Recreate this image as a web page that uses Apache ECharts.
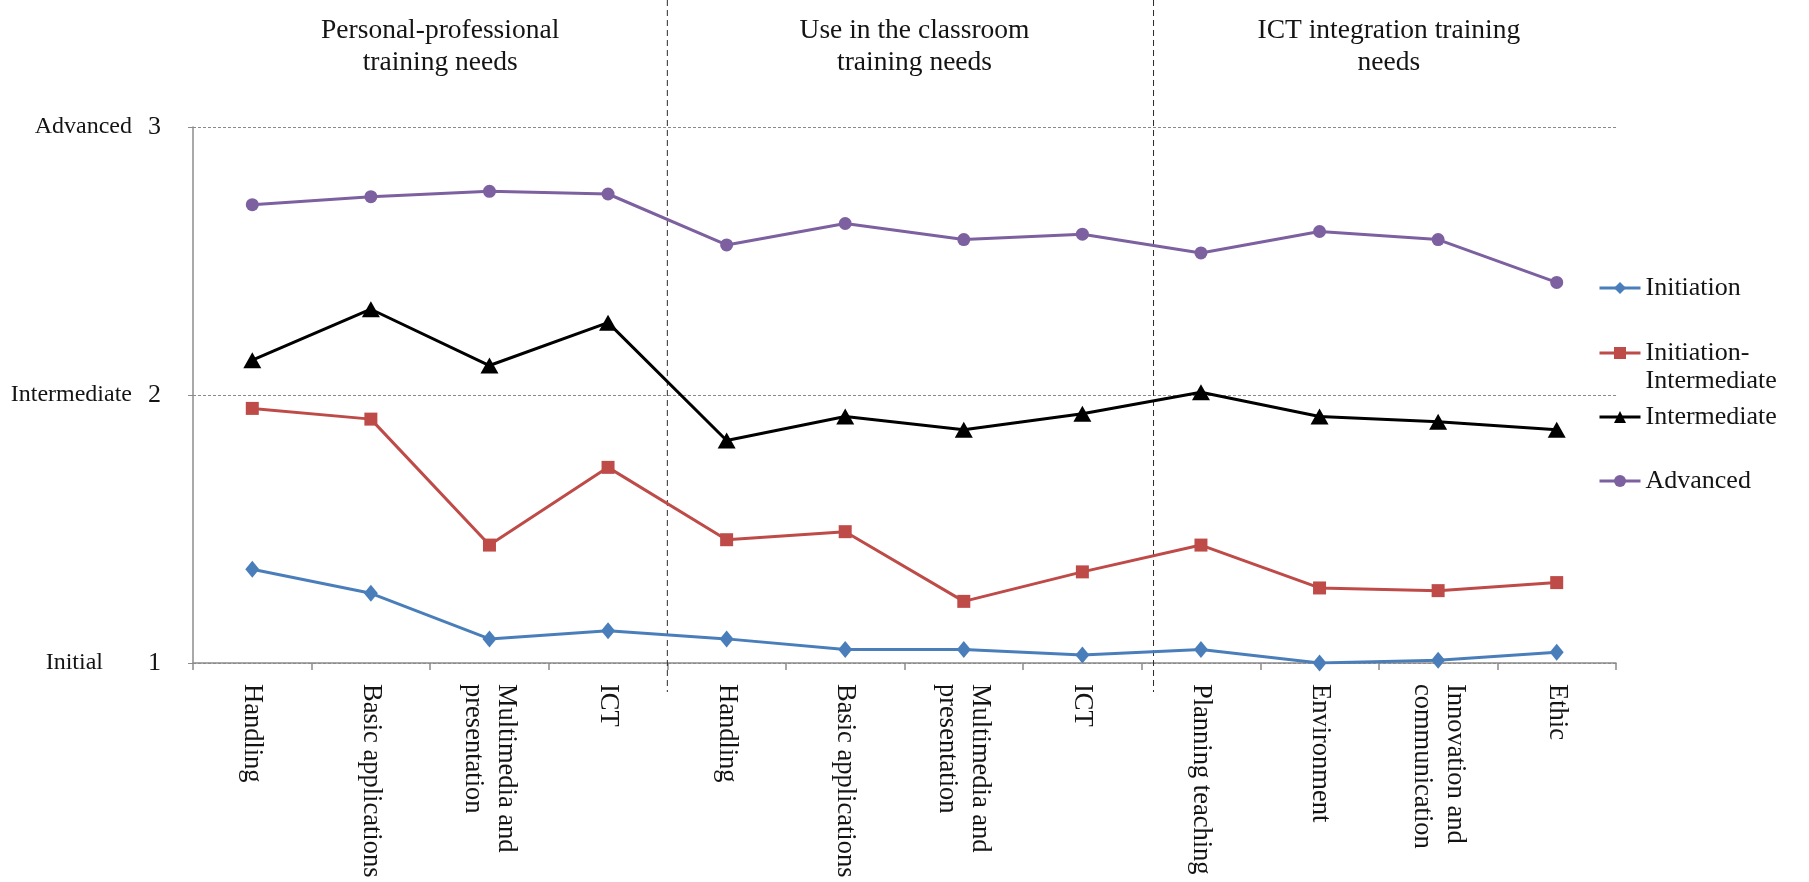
<!DOCTYPE html>
<html>
<head>
<meta charset="utf-8">
<script src="https://cdn.jsdelivr.net/npm/echarts@6/dist/echarts.min.js"></script>
<style>
  html, body { margin: 0; padding: 0; background: #ffffff; }
  #chart { width: 1809px; height: 882px; }
</style>
</head>
<body>
<div id="chart"></div>
<script>
// Training-need items, grouped into three blocks of four
const categories = [
  'Handling', 'Basic applications', 'Multimedia and\npresentation', 'ICT',
  'Handling', 'Basic applications', 'Multimedia and\npresentation', 'ICT',
  'Planning teaching', 'Environment', 'Innovation and\ncommunication', 'Ethic'
];
const groupTitles = [
  'Personal-professional\ntraining needs',
  'Use in the classroom\ntraining needs',
  'ICT integration training\nneeds'
];
const groupSizes = [4, 4, 4];

// Competence scale tick labels
const levelNames = { 1: 'Initial', 2: 'Intermediate', 3: 'Advanced' };

// Mean competence level per group of teachers
const initiation             = [1.35, 1.26, 1.09, 1.12, 1.09, 1.05, 1.05, 1.03, 1.05, 1.00, 1.01, 1.04];
const initiationIntermediate = [1.95, 1.91, 1.44, 1.73, 1.46, 1.49, 1.23, 1.34, 1.44, 1.28, 1.27, 1.30];
const intermediate           = [2.13, 2.32, 2.11, 2.27, 1.83, 1.92, 1.87, 1.93, 2.01, 1.92, 1.90, 1.87];
const advanced               = [2.71, 2.74, 2.76, 2.75, 2.56, 2.64, 2.58, 2.60, 2.53, 2.61, 2.58, 2.42];

const SERIF = '"Liberation Serif", "Times New Roman", serif';
const TEXT = '#141414';
const AXIS = '#8c8c8c';

const seriesDefs = [
  { name: 'Initiation', data: initiation, color: '#4A7EBB', symbol: 'diamond', size: [14, 17] },
  { name: 'Initiation-Intermediate', data: initiationIntermediate, color: '#BE4B48', symbol: 'rect', size: 13 },
  { name: 'Intermediate', data: intermediate, color: '#000000', symbol: 'triangle', size: [18, 16] },
  { name: 'Advanced', data: advanced, color: '#7D60A0', symbol: 'circle', size: 13 }
];

// Legend rows: vertical centre of each entry's icon
const legendRows = [288, 353, 417, 481];
const LEGEND_LH = 28;

const legendStyle = {
  orient: 'vertical',
  left: 1598,
  padding: 0,
  itemWidth: 41,
  itemHeight: 15,
  selectedMode: false,
  lineStyle: { width: 3 },
  textStyle: { fontFamily: SERIF, fontSize: 26, color: TEXT, lineHeight: LEGEND_LH }
};

const legends = seriesDefs.map((s, i) => {
  const lg = Object.assign({}, legendStyle, { data: [s.name] });
  if (s.name === 'Initiation-Intermediate') {
    // two-line entry: the icon sits level with the first line
    lg.formatter = () => '\nInitiation-\nIntermediate';
    lg.top = legendRows[i] - LEGEND_LH * 1.5;
  } else {
    lg.top = legendRows[i] - LEGEND_LH / 2;
  }
  return lg;
});

const option = {
  animation: false,
  backgroundColor: '#ffffff',
  grid: { left: 193, right: 193, top: 127, bottom: 219, containLabel: false },
  legend: legends,
  xAxis: {
    type: 'category',
    data: categories,
    boundaryGap: true,
    axisLine: { show: true, lineStyle: { color: AXIS, width: 1.5 } },
    axisTick: { show: true, length: 7, alignWithLabel: false, lineStyle: { color: AXIS, width: 1.5 } },
    axisLabel: {
      rotate: -90,
      interval: 0,
      margin: 21,
      fontFamily: SERIF,
      fontSize: 26.5,
      lineHeight: 33,
      color: TEXT
    },
    splitLine: { show: false }
  },
  yAxis: {
    type: 'value',
    min: 1,
    max: 3,
    interval: 1,
    axisLine: { show: true, lineStyle: { color: AXIS, width: 1.5 } },
    axisTick: { show: true, length: 5, lineStyle: { color: AXIS } },
    splitLine: { show: true, lineStyle: { type: [3, 2], color: '#8a8a8a', width: 1 } },
    axisLabel: {
      margin: 32,
      formatter: v => (v === 1 ? '{ini|' : '{nm|') + levelNames[v] + '}{num|' + v + '}',
      rich: {
        nm:  { fontFamily: SERIF, fontSize: 24, color: TEXT, padding: [0, 16, 0, 0] },
        ini: { fontFamily: SERIF, fontSize: 24, color: TEXT, padding: [0, 45, 0, 0] },
        num: { fontFamily: SERIF, fontSize: 26, color: TEXT }
      }
    }
  },
  series: seriesDefs.map(s => ({
    name: s.name,
    type: 'line',
    data: s.data,
    symbol: s.symbol,
    symbolSize: s.size,
    showAllSymbol: true,
    lineStyle: { color: s.color, width: 3 },
    itemStyle: { color: s.color },
    z: 3
  }))
};

const chart = echarts.init(document.getElementById('chart'), null, { renderer: 'canvas' });
chart.setOption(option);

// Group headers and dashed dividers, placed from the category axis scale
const centers = categories.map((c, i) => chart.convertToPixel({ xAxisIndex: 0 }, i));
const step = centers[1] - centers[0];
const boundaries = [centers[0] - step / 2];
let acc = 0;
groupSizes.forEach(n => {
  acc += n;
  boundaries.push(centers[acc - 1] + step / 2);
});

const graphics = [];
groupTitles.forEach((t, i) => {
  graphics.push({
    type: 'text',
    style: {
      text: t,
      x: (boundaries[i] + boundaries[i + 1]) / 2 + 10,
      y: 46.5,
      align: 'center',
      verticalAlign: 'middle',
      fontFamily: SERIF,
      fontSize: 27.5,
      lineHeight: 32,
      fill: TEXT
    }
  });
});
// Dividers sit just past the group boundary on the axis
const dividerNudge = [0, 0.1];
for (let i = 1; i < groupSizes.length; i++) {
  const x = boundaries[i] + dividerNudge[i - 1] * step;
  graphics.push({
    type: 'line',
    shape: { x1: x, y1: 0, x2: x, y2: 692 },
    style: { stroke: '#2a2a2a', lineWidth: 1, lineDash: [6, 4] },
    z: 1
  });
}
chart.setOption({ graphic: graphics });
</script>
</body>
</html>
